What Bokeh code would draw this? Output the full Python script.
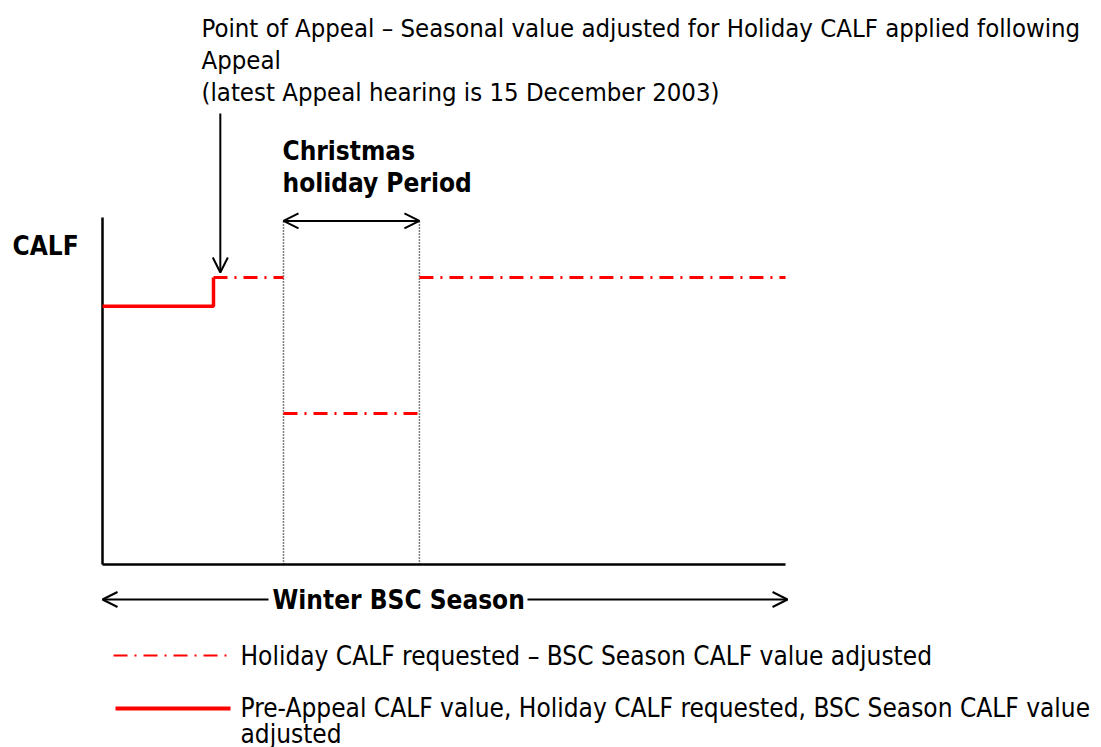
from bokeh.plotting import figure
from bokeh.models import Range1d, Label, Arrow, OpenHead
from bokeh.embed import file_html
from bokeh.resources import INLINE

# ---- data (conceptual units: season position 0..100, CALF level 0..100) ----
season = [0, 100]
appeal_point = 16.25
holiday_period = [26.5, 46.4]
calf_pre_appeal = 74.4
calf_adjusted = 82.7
calf_holiday = 43.5
axis_top = 100
arrow_level = 99

legend_labels = [
    "Holiday CALF requested \u2013 BSC Season CALF value adjusted",
    "Pre-Appeal CALF value, Holiday CALF requested, BSC Season CALF value",
    "adjusted",
]

W, H = 1101, 747
KX, KY = 6.83, 3.47
x0 = -102 / KX
y0 = -(H - 564) / KY

def dx(px):
    return x0 + px / KX

def dy(py):
    return y0 + (H - py) / KY

def sx(px):
    return px

def sy(py):
    return H - py

FONT = "DejaVu Sans Condensed"
RED = "#ff0000"
DASHDOT = "14 7 2 7"

p = figure(width=W, height=H, output_backend="svg", toolbar_location=None,
           x_range=Range1d(x0, x0 + W / KX), y_range=Range1d(y0, y0 + H / KY),
           min_border=0)
p.axis.visible = False
p.grid.visible = False
p.outline_line_color = None
p.background_fill_color = "white"
p.border_fill_color = "white"

# axes
p.line([season[0], season[0]], [0, axis_top], line_color="black", line_width=2.5)
p.line(season, [0, 0], line_color="black", line_width=2.5)

# holiday period dotted boundaries
for hx in holiday_period:
    p.line([hx, hx], [0, arrow_level], line_color="black", line_width=1.5, line_dash="1 2")

# pre-appeal solid step
p.line([season[0], appeal_point, appeal_point], [calf_pre_appeal, calf_pre_appeal, calf_adjusted],
       line_color=RED, line_width=3.5)
# adjusted dash-dot
p.line([appeal_point, holiday_period[0]], [calf_adjusted, calf_adjusted],
       line_color=RED, line_width=3, line_dash=DASHDOT)
p.line([holiday_period[1], season[1]], [calf_adjusted, calf_adjusted],
       line_color=RED, line_width=3, line_dash=DASHDOT)
p.line(holiday_period, [calf_holiday, calf_holiday],
       line_color=RED, line_width=3, line_dash=DASHDOT)

# arrows
def arrow(xs, ys, xe, ye, both=False):
    a = Arrow(end=OpenHead(size=15, line_width=2, line_color="black"),
              x_start=xs, y_start=ys, x_end=xe, y_end=ye,
              line_color="black", line_width=2)
    if both:
        a.start = OpenHead(size=15, line_width=2, line_color="black")
    p.add_layout(a)

arrow(holiday_period[0], arrow_level, holiday_period[1], arrow_level, both=True)
arrow(appeal_point + 1.0, dy(113), appeal_point + 1.0, dy(272))
arrow(dx(268), dy(599), season[0], dy(599))
arrow(dx(527), dy(599), season[1] + 0.3, dy(599))

# legend samples
p.line([dx(113), dx(228)], [dy(655), dy(655)], line_color=RED, line_width=2, line_dash=DASHDOT)
p.line([dx(115), dx(230)], [dy(708), dy(708)], line_color=RED, line_width=4)

def label(text, px, py, bold=False, size=25.5):
    p.add_layout(Label(x=sx(px), y=sy(py), x_units="screen", y_units="screen",
                       text=text, text_font=FONT, text_font_size=f"{size}px",
                       text_font_style="bold" if bold else "normal",
                       text_baseline="middle", text_align="left", text_color="black"))

label("Point of Appeal \u2013 Seasonal value adjusted for Holiday CALF applied following", 201, 27)
label("Appeal", 201, 59)
label("(latest Appeal hearing is 15 December 2003)", 201, 91)
label("Christmas", 282, 150, bold=True, size=26)
label("holiday Period", 282, 182, bold=True, size=26)
label("CALF", 12, 245, bold=True, size=26)
label("Winter BSC Season", 272, 599, bold=True, size=26)
label(legend_labels[0], 240, 655, size=26)
label(legend_labels[1], 240, 707, size=26)
label(legend_labels[2], 240, 733, size=26)

open("out.html", "w").write(file_html(p, INLINE))
